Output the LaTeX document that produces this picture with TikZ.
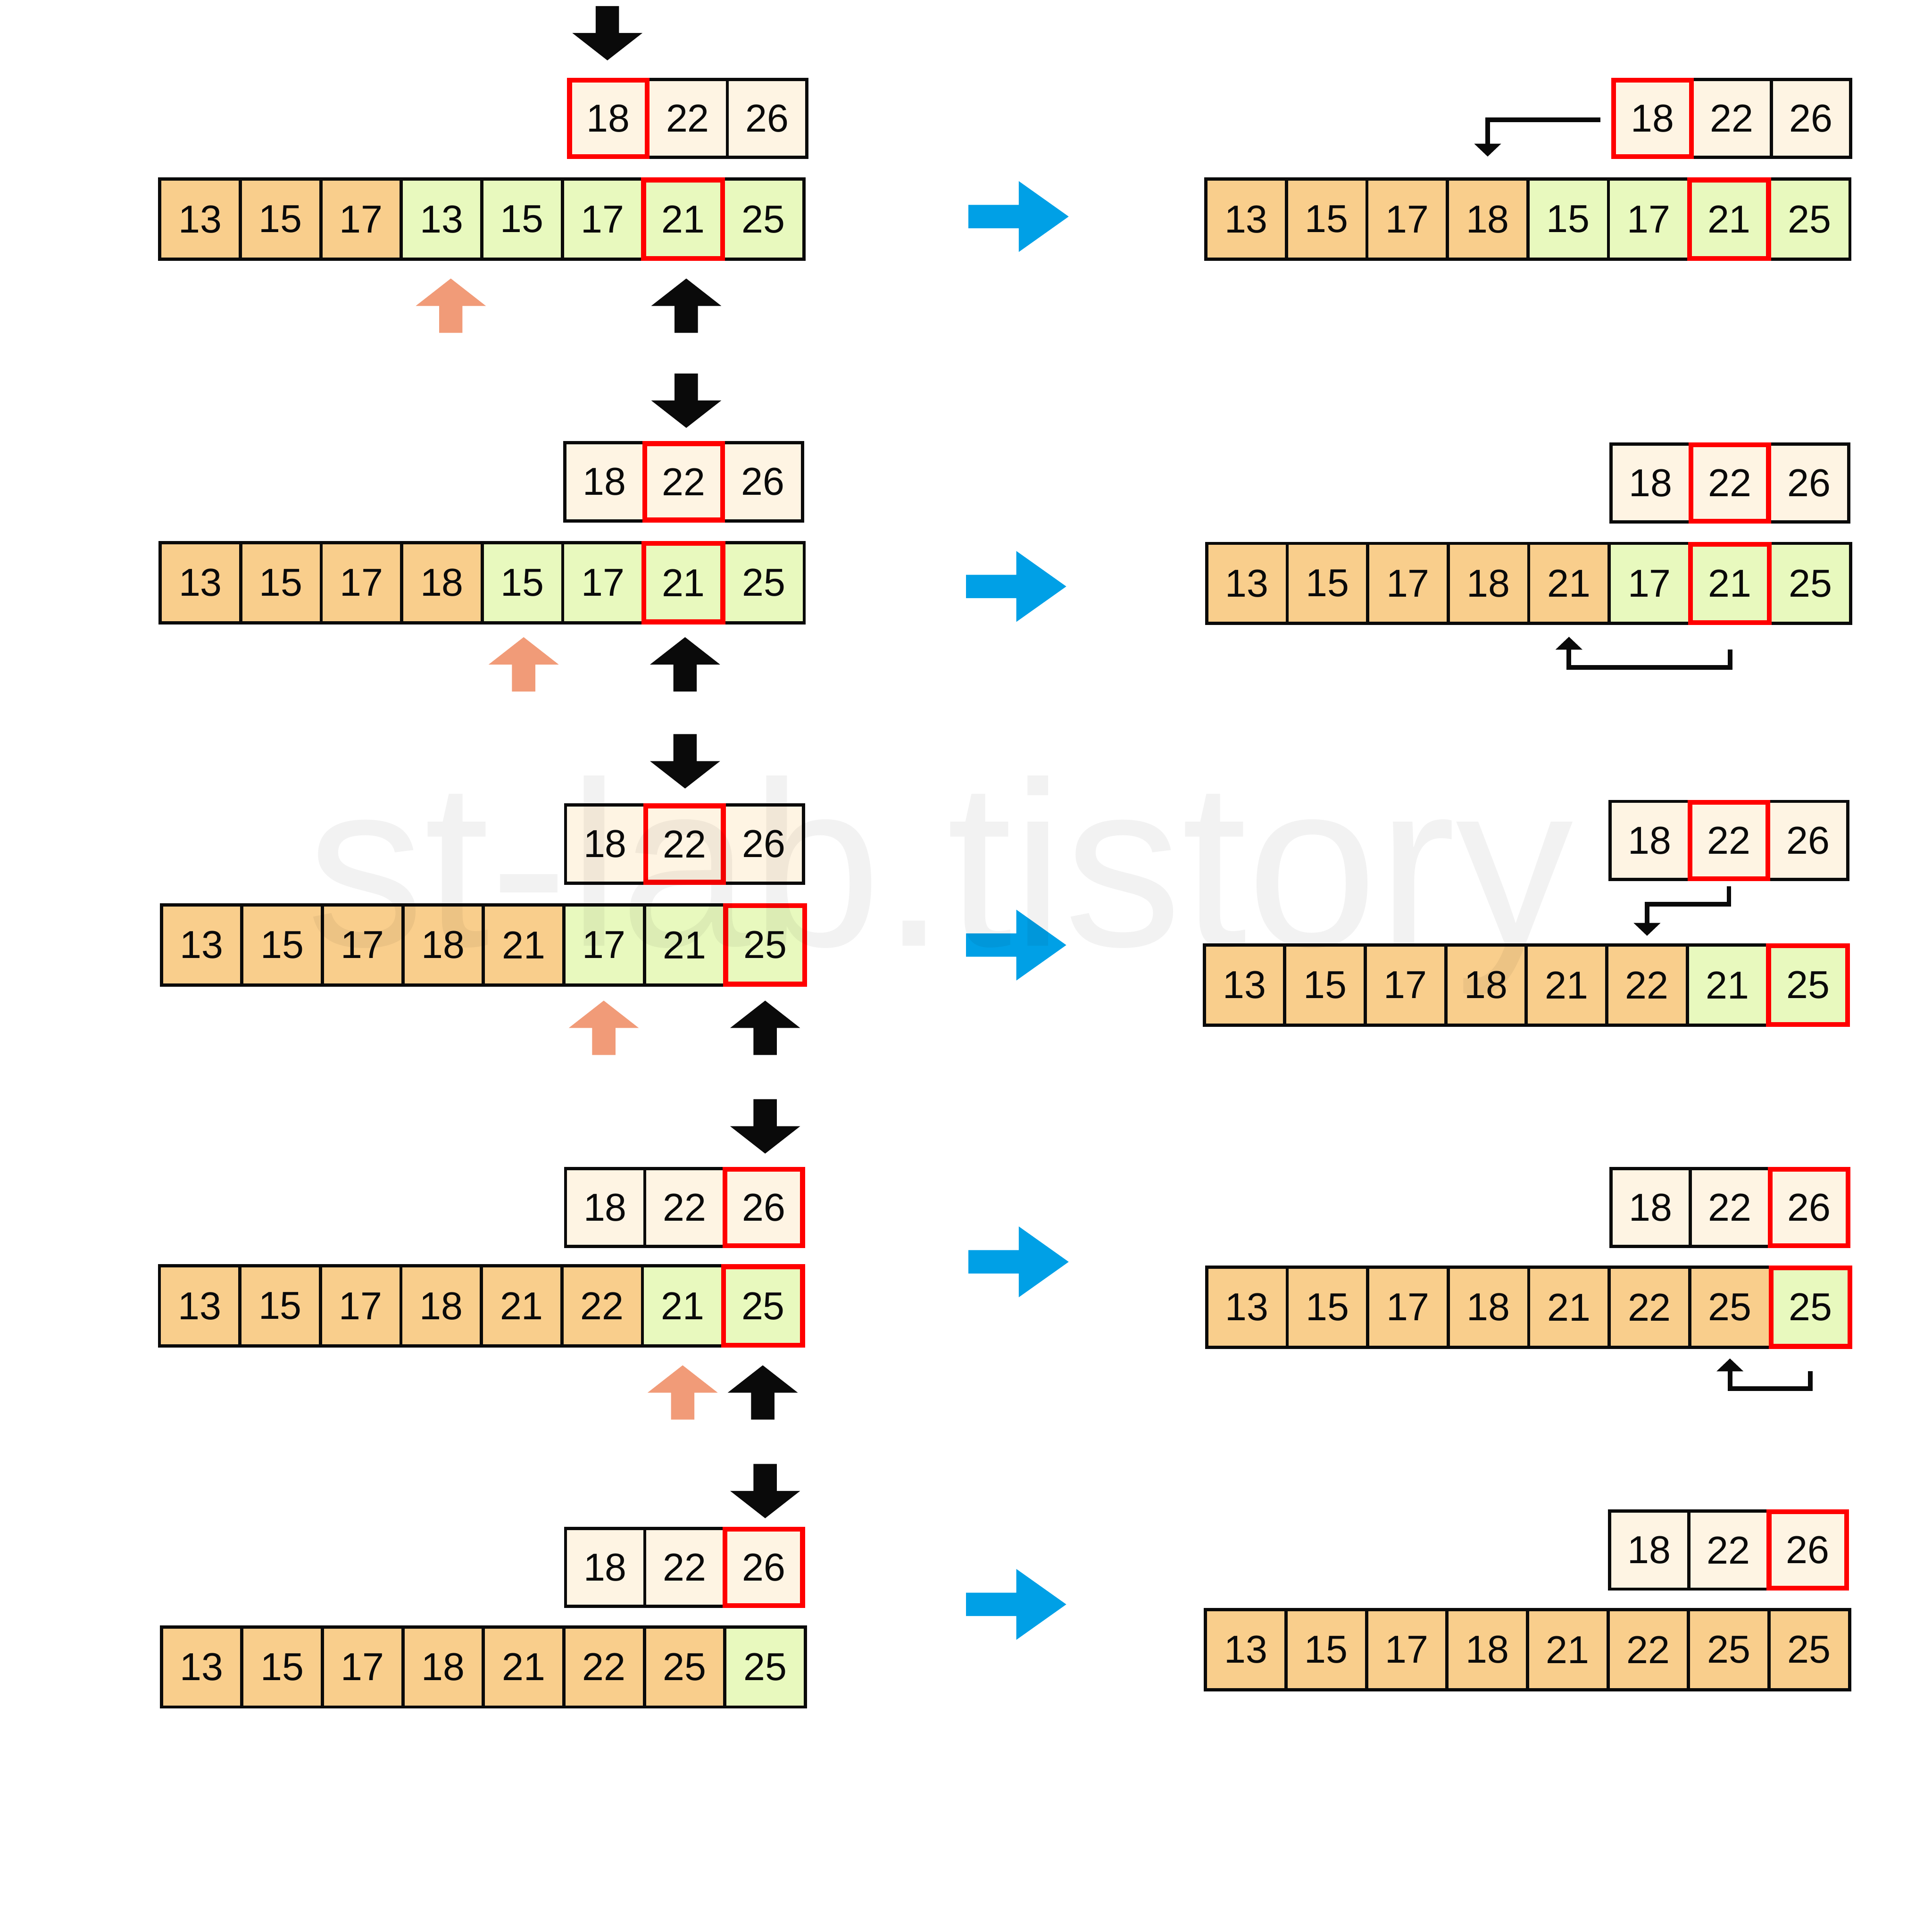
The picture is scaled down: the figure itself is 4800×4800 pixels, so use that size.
\documentclass[tikz,border=0pt]{standalone}
\usepackage{fontspec}
\setmainfont{Liberation Sans}
\usetikzlibrary{arrows.meta,calc}
\definecolor{cOr}{HTML}{F9CE8C}
\definecolor{cGr}{HTML}{E8F9BE}
\definecolor{cCr}{HTML}{FEF4E3}
\definecolor{cRed}{HTML}{FF0000}
\definecolor{cSal}{HTML}{F19B78}
\definecolor{cBlue}{HTML}{00A0E6}
\definecolor{cBlk}{HTML}{0A0A0A}
\tikzset{
  cell/.style={draw=cBlk, line width=0.08cm, inner sep=0pt, outer sep=0pt,
    font=\fontsize{27.5}{33}\selectfont, text=cBlk},
  redmark/.style={draw=cRed, line width=0.12cm},
  bent/.style={draw=cBlk, line width=0.115cm, -{Triangle[width=0.65cm,length=0.32cm]}},
  pics/darr/.style={code={\fill[#1] (-29,0) -- (29,0) -- (29,67) -- (87,67) -- (0,135) -- (-87,67) -- (-29,67) -- cycle;}},
  pics/darr/.default=cBlk,
  pics/uarr/.style={code={\fill[#1] (0,0) -- (87,68) -- (29,68) -- (29,135) -- (-29,135) -- (-29,68) -- (-87,68) -- cycle;}},
  pics/uarr/.default=cBlk,
  pics/barr/.style={code={\fill[cBlue] (0,-29) -- (125,-29) -- (125,-88) -- (249,0) -- (125,88) -- (125,29) -- (0,29) -- cycle;}},
}
\newcommand{\cellrow}[6]{%
  \foreach \v/\c [count=\i from 0] in {#6} {
    \node[cell, fill=\c, minimum width=#4*0.01cm, minimum height=#5*0.01cm, anchor=north west]
      (#1-\i) at ({#2+\i*#4},{#3}) {\v};
  }%
}
\newcommand{\redcell}[1]{%
  \draw[redmark] ([shift={(2,2)}]#1.north west) rectangle ([shift={(-2,-2)}]#1.south east);%
}
\begin{document}
\begin{tikzpicture}[x=0.01cm,y=-0.01cm]
\fill[white] (0,0) rectangle (4800,4800);
\useasboundingbox (0,0) rectangle (4800,4800);

% ---------------- Left column ----------------
% Row 1
\pic at (1509,15) {darr};
\cellrow{L1s}{1413}{197}{197}{194}{18/cCr,22/cCr,26/cCr}
\cellrow{L1b}{397}{445}{200}{199}{13/cOr,15/cOr,17/cOr,13/cGr,15/cGr,17/cGr,21/cGr,25/cGr}
\redcell{L1s-0}
\redcell{L1b-6}
\pic at (1120,692) {uarr=cSal};
\pic at (1705,692) {uarr};

% Row 2
\pic at (1705,928) {darr};
\cellrow{L2s}{1403}{1100}{197}{194}{18/cCr,22/cCr,26/cCr}
\cellrow{L2b}{398}{1348}{200}{199}{13/cOr,15/cOr,17/cOr,18/cOr,15/cGr,17/cGr,21/cGr,25/cGr}
\redcell{L2s-1}
\redcell{L2b-6}
\pic at (1301,1583) {uarr=cSal};
\pic at (1702,1583) {uarr};

% Row 3
\pic at (1702,1824) {darr};
\cellrow{L3s}{1405}{2000}{197}{194}{18/cCr,22/cCr,26/cCr}
\cellrow{L3b}{401}{2248}{200}{199}{13/cOr,15/cOr,17/cOr,18/cOr,21/cOr,17/cGr,21/cGr,25/cGr}
\redcell{L3s-1}
\redcell{L3b-7}
\pic at (1500,2486) {uarr=cSal};
\pic at (1901,2486) {uarr};

% Row 4
\pic at (1901,2731) {darr};
\cellrow{L4s}{1405}{2903}{197}{194}{18/cCr,22/cCr,26/cCr}
\cellrow{L4b}{396}{3145}{200}{199}{13/cOr,15/cOr,17/cOr,18/cOr,21/cOr,22/cOr,21/cGr,25/cGr}
\redcell{L4s-2}
\redcell{L4b-7}
\pic at (1696,3392) {uarr=cSal};
\pic at (1895,3392) {uarr};

% Row 5
\pic at (1901,3637) {darr};
\cellrow{L5s}{1405}{3797}{197}{194}{18/cCr,22/cCr,26/cCr}
\cellrow{L5b}{401}{4042}{200}{199}{13/cOr,15/cOr,17/cOr,18/cOr,21/cOr,22/cOr,25/cOr,25/cGr}
\redcell{L5s-2}

% ---------------- Blue arrows ----------------
\pic at (2406,538) {barr};
\pic at (2400,1457) {barr};
\pic at (2400,2348) {barr};
\pic at (2406,3135) {barr};
\pic at (2400,3986) {barr};

% ---------------- Right column ----------------
% Row 1
\cellrow{R1s}{4007}{197}{197}{194}{18/cCr,22/cCr,26/cCr}
\cellrow{R1b}{2996}{445}{200}{199}{13/cOr,15/cOr,17/cOr,18/cOr,15/cGr,17/cGr,21/cGr,25/cGr}
\redcell{R1s-0}
\redcell{R1b-6}
\draw[bent] ([xshift=-0.31cm,yshift=-0.04cm]R1s-0.west) -| ([yshift=0.56cm]R1b-3.north);

% Row 2
\cellrow{R2s}{4002}{1103}{197}{194}{18/cCr,22/cCr,26/cCr}
\cellrow{R2b}{2998}{1350}{200}{199}{13/cOr,15/cOr,17/cOr,18/cOr,21/cOr,17/cGr,21/cGr,25/cGr}
\redcell{R2s-1}
\redcell{R2b-6}
\draw[bent] ([yshift=-0.65cm]R2b-6.south) -- ++(0,44) -| ([yshift=-0.33cm]R2b-4.south);

% Row 3
\cellrow{R3s}{4000}{1991}{197}{194}{18/cCr,22/cCr,26/cCr}
\cellrow{R3b}{2992}{2348}{200}{199}{13/cOr,15/cOr,17/cOr,18/cOr,21/cOr,22/cOr,21/cGr,25/cGr}
\redcell{R3s-1}
\redcell{R3b-7}
\draw[bent] ([yshift=-0.17cm]R3s-1.south) -- ++(0,44) -| ([yshift=0.23cm]R3b-5.north);

% Row 4
\cellrow{R4s}{4002}{2903}{197}{194}{18/cCr,22/cCr,26/cCr}
\cellrow{R4b}{2998}{3148}{200}{199}{13/cOr,15/cOr,17/cOr,18/cOr,21/cOr,22/cOr,25/cOr,25/cGr}
\redcell{R4s-2}
\redcell{R4b-7}
\draw[bent] ([yshift=-0.59cm]R4b-7.south) -- ++(0,44) -| ([yshift=-0.28cm]R4b-6.south);

% Row 5
\cellrow{R5s}{3999}{3754}{197}{194}{18/cCr,22/cCr,26/cCr}
\cellrow{R5b}{2995}{3999}{200}{199}{13/cOr,15/cOr,17/cOr,18/cOr,21/cOr,22/cOr,25/cOr,25/cOr}
\redcell{R5s-2}

% ---------------- Watermark ----------------
\node[anchor=base west, inner sep=0pt, font=\fontsize{166}{170}\selectfont,
  text=black, text opacity=0.05] (wm) at (762,2350) {st-lab.tistory};
\end{tikzpicture}
\end{document}
